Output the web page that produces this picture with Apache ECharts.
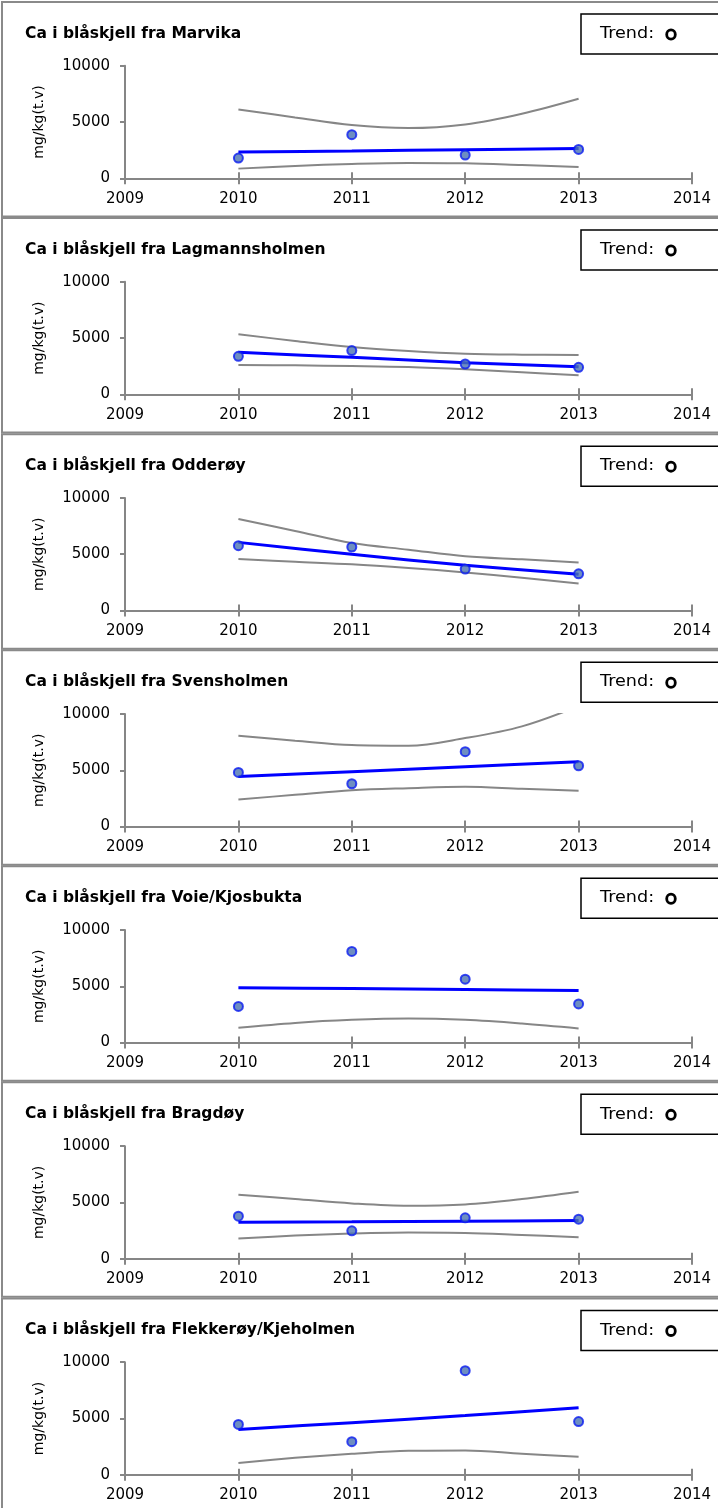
<!DOCTYPE html>
<html>
<head>
<meta charset="utf-8">
<script src="https://cdn.jsdelivr.net/npm/echarts@6/dist/echarts.min.js"></script>
<style>
html,body{margin:0;padding:0;background:#fff;}
#chart{width:718px;height:1508px;}
</style>
</head>
<body>
<div id="chart"></div>
<script>
// ---- data ----
const stations = ['Marvika', 'Lagmannsholmen', 'Odderøy', 'Svensholmen', 'Voie/Kjosbukta', 'Bragdøy', 'Flekkerøy/Kjeholmen'];
const titlePrefix = 'Ca i blåskjell fra ';
const sampleYears = [2010, 2011, 2012, 2013];
const bandYears = [2010, 2010.5, 2011, 2011.5, 2012, 2012.5, 2013];
const xTicks = [2009, 2010, 2011, 2012, 2013, 2014];
const yTicks = [0, 5000, 10000];
const trendLabel = 'Trend:';
const yAxisTitle = 'mg/kg(t.v)';

const measuredValues = [
  [1800, 3880, 2070, 2570],
  [3380, 3890, 2700, 2400],
  [5760, 5640, 3680, 3260],
  [4810, 3800, 6650, 5400],
  [3210, 8100, 5640, 3440],
  [3780, 2470, 3630, 3510],
  [4470, 2940, 9250, 4720]
];
const trendValues = [
  [2340, 2430, 2540, 2640],
  [3740, 3290, 2820, 2460],
  [6050, 4990, 4010, 3210],
  [4450, 4870, 5310, 5760],
  [4870, 4810, 4720, 4630],
  [3240, 3270, 3330, 3390],
  [4020, 4630, 5260, 5950]
];
const upperBand = [
  [6120, 5410, 4730, 4470, 4790, 5740, 7070],
  [5340, 4750, 4210, 3860, 3620, 3530, 3500],
  [8130, 7060, 5990, 5400, 4810, 4540, 4270],
  [8070, 7630, 7240, 7180, 7860, 8900, 10700],
  null,
  [5690, 5300, 4910, 4700, 4820, 5300, 5950],
  null
];
const lowerBand = [
  [860, 1100, 1270, 1360, 1330, 1180, 1010],
  [2610, 2580, 2520, 2430, 2230, 1960, 1690],
  [4570, 4330, 4100, 3770, 3380, 2910, 2400],
  [2400, 2820, 3230, 3410, 3530, 3350, 3180],
  [1310, 1750, 2020, 2140, 2020, 1690, 1250],
  [1790, 2050, 2230, 2320, 2290, 2110, 1910],
  [1050, 1500, 1860, 2130, 2160, 1860, 1590]
];

// ---- layout ----
const FONT = '"DejaVu Sans", Verdana, sans-serif';
const PANEL_STEP = 216.07;
const PANEL_TOP0 = 2;
const AXIS_GREY = '#868686';
const grids = [], xAxes = [], yAxes = [], series = [], graphics = [];

const pair = (xs, ys) => xs.map((x, i) => [x, ys[i]]);

stations.forEach((name, k) => {
  const T = PANEL_TOP0 + PANEL_STEP * k;
  grids.push({ left: 125, right: 26, top: T + 63.8, height: 112.5 });

  const axisLine = { show: true, lineStyle: { color: AXIS_GREY, width: 2 } };
  xAxes.push({
    type: 'value', gridIndex: k, position: 'bottom',
    min: xTicks[0], max: xTicks[xTicks.length - 1], interval: 1,
    axisLine: axisLine,
    axisTick: { show: true, length: 6, lineStyle: { color: AXIS_GREY, width: 2 } },
    axisLabel: { color: '#000', fontFamily: FONT, fontSize: 15, margin: 13, formatter: v => String(v) },
    splitLine: { show: false }
  });
  // inner half of the crossing x ticks
  xAxes.push({
    type: 'value', gridIndex: k, position: 'bottom',
    min: xTicks[0], max: xTicks[xTicks.length - 1], interval: 1,
    axisLine: { show: false },
    axisTick: { show: true, inside: true, length: 6, lineStyle: { color: AXIS_GREY, width: 2 } },
    axisLabel: { show: false }, splitLine: { show: false }
  });
  yAxes.push({
    type: 'value', gridIndex: k, min: yTicks[0], max: yTicks[yTicks.length - 1], interval: 5000,
    axisLine: axisLine,
    axisTick: { show: true, length: 5, lineStyle: { color: AXIS_GREY, width: 2 } },
    axisLabel: { color: '#000', fontFamily: FONT, fontSize: 15, margin: 15, formatter: v => String(v) },
    splitLine: { show: false },
    name: yAxisTitle, nameLocation: 'middle', nameRotate: 90, nameGap: 79,
    nameTextStyle: { color: '#000', fontFamily: FONT, fontSize: 14 }
  });

  const xi = 2 * k, yi = k;
  [upperBand[k], lowerBand[k]].forEach(band => {
    if (!band) return;
    series.push({
      type: 'line', xAxisIndex: xi, yAxisIndex: yi, data: pair(bandYears, band),
      smooth: 0.35, symbol: 'none', clip: true,
      lineStyle: { color: '#868686', width: 2 }, z: 2
    });
  });
  series.push({
    type: 'line', xAxisIndex: xi, yAxisIndex: yi, data: pair(sampleYears, trendValues[k]),
    smooth: 0.3, symbol: 'none',
    lineStyle: { color: '#0000ff', width: 3 }, z: 3
  });
  series.push({
    type: 'scatter', xAxisIndex: xi, yAxisIndex: yi, data: pair(sampleYears, measuredValues[k]),
    symbol: 'circle', symbolSize: 9,
    itemStyle: { color: '#4a72b2', borderColor: '#0a1cf0', borderWidth: 2 }, z: 4
  });

  // panel frame
  graphics.push({ type: 'rect', shape: { x: 2, y: T, width: 730, height: 214.5 },
    style: { fill: 'none', stroke: '#8a8a8a', lineWidth: 2 }, z: 0 });
  // title
  graphics.push({ type: 'text', x: 25, y: T + 31.5,
    style: { text: titlePrefix + name, font: 'bold 15.5px ' + FONT, fill: '#000',
      textAlign: 'left', textVerticalAlign: 'middle', align: 'left', verticalAlign: 'middle' }, z: 5 });
  // trend box
  graphics.push({ type: 'rect', shape: { x: 581, y: T + 12, width: 150, height: 40 },
    style: { fill: '#fff', stroke: '#000', lineWidth: 1.5 }, z: 5 });
  graphics.push({ type: 'text', x: 600, y: T + 32, scaleX: 1.1,
    style: { text: trendLabel, font: '16px ' + FONT, fill: '#000',
      textAlign: 'left', textVerticalAlign: 'middle', align: 'left', verticalAlign: 'middle' }, z: 6 });
  graphics.push({ type: 'ellipse', shape: { cx: 671, cy: T + 32.5, rx: 4.3, ry: 4.6 },
    style: { fill: 'none', stroke: '#000', lineWidth: 2.8 }, z: 6 });
});

const chart = echarts.init(document.getElementById('chart'), null, { renderer: 'canvas' });
chart.setOption({
  animation: false,
  backgroundColor: '#fff',
  grid: grids, xAxis: xAxes, yAxis: yAxes, series: series,
  graphic: { elements: graphics }
});
</script>
</body>
</html>
